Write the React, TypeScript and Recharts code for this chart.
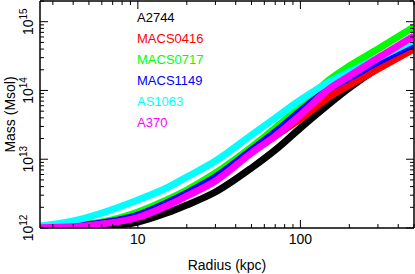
import { LineChart, Line, XAxis, YAxis, Legend } from "recharts";

const FONT = '"Liberation Sans", Arial, Helvetica, sans-serif';

// radius in kpc
const RADII = [2.5, 4, 6, 10, 15, 20, 30, 50, 70, 100, 150, 200, 300, 500];

// enclosed mass in Msol
const A2744 = [1.0e12, 1.017e12, 1.051e12, 1.223e12, 1.652e12, 2.16e12, 3.338e12, 7.456e12, 1.362e13, 2.846e13, 6.356e13, 1.086e14, 2.121e14, 4.286e14];
const MACS0416 = [1.007e12, 1.048e12, 1.163e12, 1.445e12, 2.16e12, 2.969e12, 4.989e12, 1.274e13, 2.177e13, 3.846e13, 8.033e13, 1.201e14, 2.051e14, 4.008e14];
const MACS0717 = [1.034e12, 1.106e12, 1.223e12, 1.709e12, 2.554e12, 3.569e12, 6.306e12, 1.506e13, 2.846e13, 5.943e13, 1.419e14, 2.269e14, 4.008e14, 8.372e14];
const MACS1149 = [1.017e12, 1.069e12, 1.182e12, 1.545e12, 2.309e12, 3.228e12, 5.514e12, 1.362e13, 2.489e13, 5.027e13, 1.05e14, 1.518e14, 2.593e14, 4.738e14];
const AS1063 = [1.069e12, 1.264e12, 1.652e12, 2.554e12, 3.816e12, 5.515e12, 9.425e12, 2.25e13, 3.98e13, 7.27e13, 1.327e14, 1.855e14, 2.965e14, 5.418e14];
const A370 = [1.007e12, 1.041e12, 1.143e12, 1.421e12, 2.089e12, 2.92e12, 4.825e12, 1.232e13, 2.177e13, 4.398e13, 1.05e14, 1.623e14, 2.965e14, 6.193e14];

const SERIES = [
  { key: "A2744", color: "#000000", values: A2744 },
  { key: "MACS0416", color: "#ff0000", values: MACS0416 },
  { key: "MACS0717", color: "#00ff00", values: MACS0717 },
  { key: "MACS1149", color: "#0000ff", values: MACS1149 },
  { key: "AS1063", color: "#00ffff", values: AS1063 },
  { key: "A370", color: "#ff00ff", values: A370 },
];

const X_TICKS = [3, 4, 5, 6, 7, 8, 9, 10, 20, 30, 40, 50, 60, 70, 80, 90, 100, 200, 300, 400, 500];
const X_MAJOR = [10, 100];
const Y_TICKS = [
  1e12, 2e12, 3e12, 4e12, 5e12, 6e12, 7e12, 8e12, 9e12,
  1e13, 2e13, 3e13, 4e13, 5e13, 6e13, 7e13, 8e13, 9e13,
  1e14, 2e14, 3e14, 4e14, 5e14, 6e14, 7e14, 8e14, 9e14,
  1e15, 2e15,
];
const Y_MAJOR = [1e12, 1e13, 1e14, 1e15];
const Y_EXP = ["12", "13", "14", "15"];

const data = RADII.map((r, i) => {
  const row: Record<string, number> = { r };
  SERIES.forEach((s) => (row[s.key] = s.values[i]));
  return row;
});

const BottomTick = ({ x, y, payload }: any) => {
  const major = X_MAJOR.includes(payload.value);
  return (
    <g>
      <line x1={x} x2={x} y1={y} y2={y - (major ? 8 : 4)} stroke="#000" strokeWidth={1} />
      {major && (
        <text x={x} y={y + 16} textAnchor="middle" fontSize={14} fill="#000" fontFamily={FONT}>
          {payload.value}
        </text>
      )}
    </g>
  );
};

const TopTick = ({ x, y, payload }: any) => {
  const major = X_MAJOR.includes(payload.value);
  return <line x1={x} x2={x} y1={y} y2={y + (major ? 8 : 4)} stroke="#000" strokeWidth={1} />;
};

const LeftTick = ({ x, y, payload }: any) => {
  const idx = Y_MAJOR.indexOf(payload.value);
  const major = idx >= 0;
  const bx = x - 7;
  return (
    <g>
      <line x1={x} x2={x + (major ? 8 : 4)} y1={y} y2={y} stroke="#000" strokeWidth={1} />
      {major && (
        <text
          x={bx}
          y={y}
          transform={`rotate(-90 ${bx} ${y})`}
          textAnchor="middle"
          fontSize={14}
          fill="#000"
          fontFamily={FONT}
        >
          10
          <tspan dy={-6} fontSize={10}>
            {Y_EXP[idx]}
          </tspan>
        </text>
      )}
    </g>
  );
};

const RightTick = ({ x, y, payload }: any) => {
  const major = Y_MAJOR.includes(payload.value);
  return <line x1={x} x2={x - (major ? 8 : 4)} y1={y} y2={y} stroke="#000" strokeWidth={1} />;
};

const frame = { stroke: "#000", strokeWidth: 1.5 };

const XLabel = () => (
  <text x={227} y={270} textAnchor="middle" fontSize={14} fill="#000" fontFamily={FONT}>
    Radius (kpc)
  </text>
);

const YLabel = () => (
  <text
    x={15}
    y={114.5}
    transform="rotate(-90 15 114.5)"
    textAnchor="middle"
    fontSize={14}
    fill="#000"
    fontFamily={FONT}
  >
    Mass (Msol)
  </text>
);

export default function App() {
  return (
    <div style={{ position: "absolute", left: 0, top: 0, width: 415, height: 274, background: "#fff" }}>
      <LineChart
        width={415}
        height={274}
        data={data}
        margin={{ top: 0, right: 0, bottom: 45, left: 39 }}
        style={{ fontFamily: FONT }}
      >
        <XAxis
          dataKey="r"
          type="number"
          scale="log"
          domain={[2.5, 500]}
          allowDataOverflow
          ticks={X_TICKS}
          interval={0}
          height={1}
          tickSize={0}
          tickMargin={0}
          tickLine={false}
          axisLine={frame}
          tick={<BottomTick />}
          label={<XLabel />}
        />
        <XAxis
          xAxisId="top"
          orientation="top"
          dataKey="r"
          type="number"
          scale="log"
          domain={[2.5, 500]}
          allowDataOverflow
          ticks={X_TICKS}
          interval={0}
          height={1}
          tickSize={0}
          tickMargin={0}
          tickLine={false}
          axisLine={frame}
          tick={<TopTick />}
        />
        <YAxis
          type="number"
          scale="log"
          domain={[1e12, 2e15]}
          allowDataOverflow
          ticks={Y_TICKS}
          interval={0}
          width={1}
          tickSize={0}
          tickMargin={0}
          tickLine={false}
          axisLine={frame}
          tick={<LeftTick />}
          label={<YLabel />}
        />
        <YAxis
          yAxisId="right"
          orientation="right"
          type="number"
          scale="log"
          domain={[1e12, 2e15]}
          allowDataOverflow
          ticks={Y_TICKS}
          interval={0}
          width={1}
          tickSize={0}
          tickMargin={0}
          tickLine={false}
          axisLine={frame}
          tick={<RightTick />}
        />
        {SERIES.map((s) => (
          <Line
            key={s.key}
            dataKey={s.key}
            name={s.key}
            type="monotone"
            stroke={s.color}
            strokeWidth={7}
            dot={false}
            activeDot={false}
            isAnimationActive={false}
          />
        ))}
        <Legend
          layout="vertical"
          align="center"
          verticalAlign="middle"
          wrapperStyle={{ left: 137, top: 7, width: 120 }}
          content={() => (
            <div style={{ fontFamily: FONT, fontSize: 13, lineHeight: "21px" }}>
              {SERIES.map((s) => (
                <div key={s.key} style={{ color: s.color }}>
                  {s.key}
                </div>
              ))}
            </div>
          )}
        />
      </LineChart>
    </div>
  );
}
